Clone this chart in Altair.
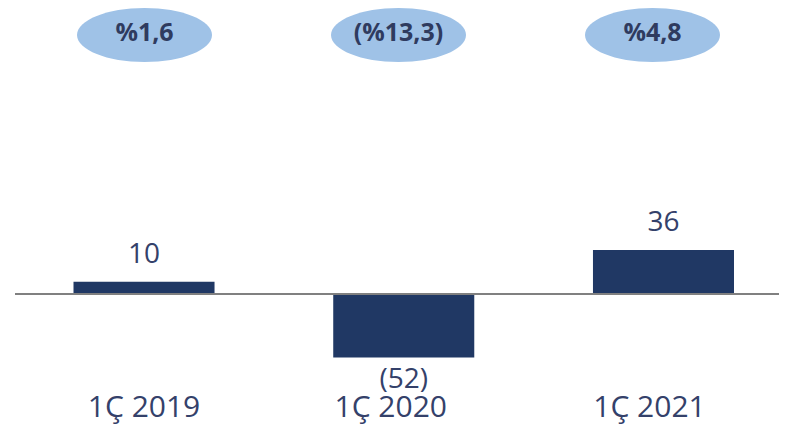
import altair as alt
import pandas as pd

categories = ["1Ç 2019", "1Ç 2020", "1Ç 2021"]
values = [10, -52, 36]
value_labels = ["10", "(52)", "36"]
pct_labels = ["%1,6", "(%13,3)", "%4,8"]

df = pd.DataFrame({
    "cat": categories,
    "val": values,
    "lab": value_labels,
    "pct": pct_labels,
    "zero": [0, 0, 0],
})

BAR = "#203864"
TXT = "#34416A"
ELL = "#9FC2E7"
FONT = "Open Sans"

# horizontal nudges of the category labels relative to the bar centres (layout only)
cat_label_dx = [0, -13, -14]

xs = alt.Scale(type="band", domain=categories, range=[65.5, 726], paddingInner=0.457, paddingOuter=0)
ys = alt.Scale(domain=[-106.6, 234.4], nice=False, zero=False)
x_enc = alt.X("cat:N", scale=xs, axis=None, sort=categories)
y_enc = alt.Y("val:Q", scale=ys, axis=None)

base = alt.Chart(df)

bars = base.mark_bar(color=BAR).encode(x=x_enc, y=y_enc, y2="zero:Q")

rule = base.mark_rule(color="#808080", strokeWidth=2).encode(
    y=alt.Y("zero:Q", scale=ys, axis=None), x=alt.value(7), x2=alt.value(771)
)

pos_lab = base.transform_filter("datum.val >= 0").mark_text(
    font=FONT, fontSize=28, color=TXT, baseline="alphabetic", dy=-19
).encode(x=x_enc, y=y_enc, text="lab:N")

neg_lab = base.transform_filter("datum.val < 0").mark_text(
    font=FONT, fontSize=28, color=TXT, baseline="alphabetic", dy=31
).encode(x=x_enc, y=y_enc, text="lab:N")

cat_layers = []
for c, d in zip(categories, cat_label_dx):
    cat_layers.append(
        base.transform_filter(alt.datum.cat == c).mark_text(
            font=FONT, fontSize=30, color=TXT, baseline="alphabetic", dx=d
        ).encode(x=x_enc, y=alt.value(409), text="cat:N")
    )

ex = alt.X("cat:N", scale=alt.Scale(type="point", domain=categories, range=[136.5, 644.5], padding=0),
           axis=None, sort=categories)

ellipse_path = "M -1 0 A 1 0.4 0 1 0 1 0 A 1 0.4 0 1 0 -1 0 Z"
ell = base.mark_point(shape=ellipse_path, filled=True, color=ELL, opacity=1, size=135 * 135, strokeWidth=0).encode(
    x=ex, y=alt.value(27)
)
ell_txt = base.mark_text(font=FONT, fontSize=25, fontWeight="bold", color="#2F3B5F", baseline="middle").encode(
    x=ex, y=alt.value(25), text="pct:N"
)

chart = alt.layer(bars, rule, pos_lab, neg_lab, *cat_layers, ell, ell_txt).resolve_scale(
    x="independent"
).properties(
    width=771, height=416, padding=0, autosize=alt.AutoSizeParams(type="none")
).configure_view(stroke=None)

chart.save("out.html", embed_options={"renderer": "svg", "actions": False})
